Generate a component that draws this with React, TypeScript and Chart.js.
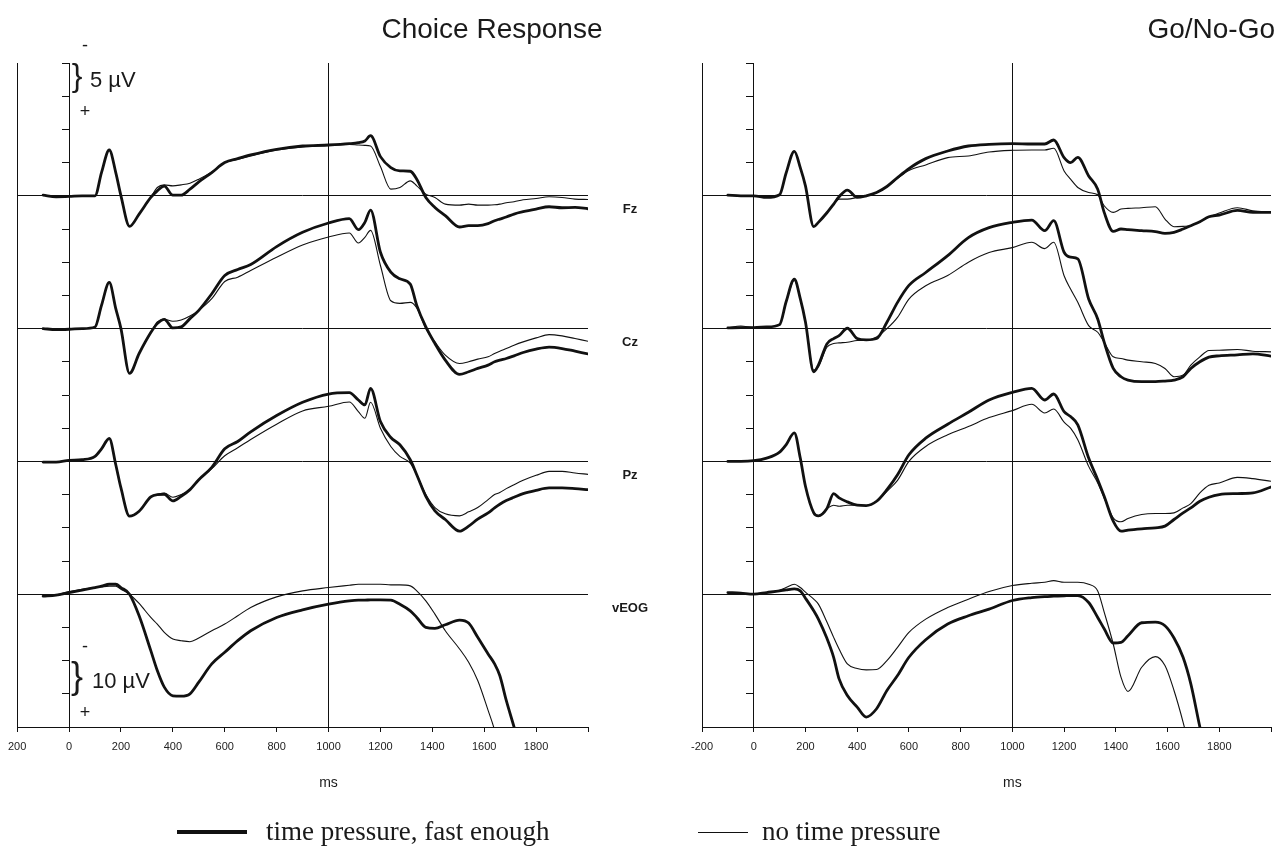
import React, { useEffect, useRef } from "react";
import { Chart, registerables } from "chart.js";

Chart.register(...registerables);

// ---------- DATA (µV, negative plotted upward) ----------
const timesChoice = [-100, -50, 0, 50, 100, 125, 155, 180, 200, 233, 270, 315, 340, 367, 400, 432, 466, 500, 550, 600, 650, 700, 800, 900, 1000, 1080, 1115, 1140, 1162, 1200, 1240, 1275, 1315, 1340, 1375, 1410, 1450, 1505, 1540, 1575, 1615, 1640, 1660, 1685, 1715, 1750, 1800, 1850, 1900, 1950, 2000];

const choiceFzFast = [-0.1, 0.15, 0.1, 0, 0, -3.5, -6.9, -3.5, 0, 4.6, 2.75, 0.25, -0.75, -1.45, -0.1, -0.1, -1.0, -2.1, -3.5, -5.0, -5.6, -6.15, -7.0, -7.5, -7.65, -7.85, -8.0, -8.25, -9.05, -5.9, -4.25, -3.75, -3.7, -2.5, 0.25, 1.75, 3.0, 4.7, 4.5, 4.5, 4.2, 3.75, 3.5, 3.2, 2.75, 2.4, 2.0, 1.65, 1.8, 1.75, 1.95];
const choiceFzNoPressure = [-0.1, 0.15, 0.1, 0, 0, -3.5, -6.9, -3.5, 0, 4.6, 2.75, 0.25, -1.25, -1.65, -1.5, -1.65, -1.9, -2.5, -3.6, -5.0, -5.5, -6.0, -6.9, -7.35, -7.6, -7.75, -7.65, -7.6, -7.5, -4.4, -1.0, -1.25, -2.25, -1.5, -0.25, 0.25, 1.25, 1.4, 1.25, 1.4, 1.4, 1.35, 1.25, 1.05, 0.9, 0.6, 0.4, 0.15, 0.25, 0.5, 0.55];

const choiceCzFast = [0, 0.15, 0.1, 0, -0.25, -3.5, -6.95, -3.0, 0, 6.75, 3.75, 0.6, -0.75, -1.4, -0.1, -0.25, -1.5, -2.75, -5.25, -8.0, -8.9, -9.65, -12.35, -14.5, -15.9, -16.55, -14.9, -16.0, -17.85, -11.5, -8.5, -7.5, -6.7, -3.5, -0.25, 2.25, 4.75, 6.9, 6.5, 6.0, 5.5, 5.0, 4.75, 4.5, 4.1, 3.6, 3.1, 2.8, 3.0, 3.4, 3.8];
const choiceCzNoPressure = [0, 0.15, 0.1, 0, -0.25, -3.5, -6.95, -3.0, 0, 6.75, 3.75, 0.6, -1.0, -1.4, -1.1, -1.3, -1.9, -2.75, -4.5, -7.1, -7.75, -8.75, -10.75, -12.6, -13.8, -14.4, -12.9, -13.75, -14.8, -9.5, -4.2, -3.8, -3.95, -3.1, 0, 2.0, 4.0, 5.25, 5.0, 4.6, 4.25, 3.75, 3.4, 3.0, 2.5, 2.0, 1.4, 0.9, 1.1, 1.5, 1.9];

const choicePzFast = [0.1, 0.1, -0.15, -0.25, -0.75, -1.9, -3.45, 0.5, 4.0, 8.25, 7.5, 5.35, 5.0, 4.95, 5.95, 5.25, 4.25, 2.75, 0.9, -1.9, -3.0, -4.45, -6.9, -8.9, -10.15, -10.35, -9.25, -8.5, -11.0, -6.0, -3.6, -2.5, -0.25, 2.0, 5.25, 7.45, 8.75, 10.5, 9.75, 8.7, 7.75, 7.0, 6.45, 5.9, 5.4, 4.85, 4.35, 4.0, 4.0, 4.1, 4.25];
const choicePzNoPressure = [0.1, 0.1, -0.15, -0.25, -0.75, -1.9, -3.45, 0.5, 4.0, 8.25, 7.5, 5.35, 5.0, 4.75, 5.4, 5.0, 4.25, 2.75, 1.1, -0.85, -2.05, -3.3, -5.6, -7.6, -8.3, -8.95, -7.5, -6.5, -8.9, -5.0, -2.25, -0.75, 0.25, 2.0, 5.0, 6.95, 7.9, 8.2, 7.6, 6.95, 5.75, 5.0, 4.7, 4.1, 3.5, 2.85, 2.1, 1.5, 1.5, 1.75, 1.95];

const choiceVeogFast = [0.6, 0.3, -0.5, -1.2, -2.0, -2.4, -3.0, -3.0, -2.0, 0, 6.5, 17, 23, 28, 30.6, 30.7, 30, 26.5, 21, 17.5, 14, 11, 7, 4.7, 3, 2, 1.8, 1.8, 1.7, 1.7, 1.8, 3, 5, 7, 10, 10.3, 9.2, 7.8, 8.7, 13, 18, 21, 24.5, 32, 40, 50, null, null, null, null, null];
const choiceVeogNoPressure = [0.6, 0.2, -0.8, -1.5, -2.0, -2.2, -2.4, -2.4, -1.5, 0, 2.8, 7, 9, 11.5, 13.5, 14, 14.3, 13.2, 11, 9, 6.5, 4, 0.8, -1, -2, -2.7, -3, -3, -3, -3, -2.8, -2.8, -2.5, -1, 2, 6, 11, 16.5, 20.5, 26, 35, 41, 48, null, null, null, null, null, null, null, null];

const timesGoNoGo = [-100, -50, 0, 50, 100, 125, 157, 180, 200, 232, 250, 283, 309, 330, 362, 400, 435, 475, 515, 556, 600, 665, 750, 830, 910, 1000, 1075, 1125, 1160, 1200, 1225, 1253, 1295, 1330, 1355, 1390, 1420, 1447, 1500, 1553, 1590, 1625, 1660, 1690, 1725, 1760, 1800, 1870, 1930, 2000];

const goFzFast = [-0.1, 0, 0, 0.25, -0.15, -3.4, -6.7, -4.25, -1.5, 4.65, 4.0, 2.55, 1.25, 0.15, -0.85, 0.25, 0, -0.5, -1.4, -2.75, -4.1, -5.6, -6.75, -7.5, -7.75, -7.85, -7.8, -7.8, -8.4, -5.75, -5.0, -5.8, -3.0, -1.0, 2.5, 5.35, 5.0, 5.1, 5.25, 5.4, 5.65, 5.5, 5.0, 4.5, 3.9, 3.15, 2.9, 2.2, 2.5, 2.5];
const goFzNoPressure = [-0.1, 0, 0, 0.25, -0.15, -3.4, -6.7, -4.25, -1.5, 4.65, 4.0, 2.55, 1.25, 0.5, 0.5, 0.25, 0, -0.5, -1.4, -2.6, -3.8, -4.65, -5.75, -6.0, -6.6, -6.85, -6.9, -6.9, -7.15, -3.75, -2.5, -1.25, -0.5, -0.15, 1.5, 2.5, 2.0, 1.9, 1.8, 1.65, 3.5, 4.65, 4.6, 4.5, 3.9, 3.15, 2.6, 1.8, 2.25, 2.5];

const goCzFast = [-0.1, -0.15, -0.15, -0.25, -0.6, -4.0, -7.45, -4.5, -1.0, 6.5, 5.5, 2.3, 1.5, 1.05, -0.05, 1.5, 1.7, 1.5, -0.95, -3.95, -6.5, -8.45, -11.0, -13.7, -15.2, -16.0, -16.35, -14.75, -16.25, -11.5, -10.75, -10.5, -4.45, -1.45, 2.05, 6.0, 7.25, 7.75, 8.0, 8.0, 7.9, 7.75, 7.25, 6.0, 5.0, 4.3, 4.1, 3.95, 3.8, 4.15];
const goCzNoPressure = [-0.1, -0.4, -0.15, -0.25, -0.6, -3.9, -7.25, -4.5, -1.0, 6.25, 5.75, 2.8, 2.25, 2.15, 2.05, 1.8, 1.75, 1.25, 0, -1.7, -4.45, -6.45, -8.0, -10.0, -11.45, -12.2, -13.0, -12.05, -13.0, -7.95, -5.95, -3.95, -0.45, 0.55, 2.05, 4.25, 4.5, 4.75, 5.0, 5.25, 6.0, 7.25, 7.0, 5.5, 4.25, 3.3, 3.25, 3.15, 3.4, 3.5];

const goPzFast = [0, 0, -0.1, -0.5, -1.4, -2.5, -4.3, -0.5, 3.75, 7.75, 8.2, 7.1, 4.85, 5.5, 6.1, 6.6, 6.65, 6.0, 4.25, 2.0, -1.0, -3.5, -5.6, -7.4, -9.25, -10.4, -11.0, -9.25, -10.15, -7.5, -6.75, -5.5, -0.5, 2.75, 5.25, 9.0, 10.5, 10.35, 10.15, 10.0, 9.75, 8.75, 7.75, 7.0, 6.0, 5.4, 5.0, 4.85, 4.75, 3.85];
const goPzNoPressure = [0, 0, -0.1, -0.5, -1.4, -2.5, -4.3, -0.5, 3.75, 7.75, 8.2, 7.1, 6.6, 6.75, 6.6, 6.6, 6.65, 6.0, 4.5, 2.85, 0, -2.25, -4.0, -5.25, -6.6, -7.65, -8.6, -7.3, -7.9, -5.9, -5.0, -3.25, 0.75, 3.25, 5.5, 8.5, 9.1, 8.6, 8.0, 7.85, 7.85, 7.75, 7.0, 6.35, 4.75, 3.6, 3.25, 2.4, 2.6, 3.0];

const goVeogFast = [-0.5, -0.3, 0, -0.5, -1.0, -1.3, -1.6, -1.0, 1.2, 5, 7.5, 13.3, 19, 25.5, 30.5, 34, 37, 34.5, 29, 24.5, 19, 13.7, 9, 6.5, 4.5, 1.9, 1, 0.7, 0.6, 0.5, 0.4, 0.4, 2.5, 7, 10.4, 14.7, 14.5, 12.5, 8.6, 8.4, 9.5, 13.2, 19, 27, 40, 52, null, null, null, null];
const goVeogNoPressure = [-0.5, -0.3, 0, -0.5, -1.2, -2.0, -3.0, -2.0, -0.6, 1.5, 3, 8.4, 13, 16.5, 21, 22.4, 22.8, 22.7, 20, 16, 11.5, 7.5, 4, 1.5, -0.8, -2.6, -3.3, -3.6, -4.1, -3.6, -3.6, -3.6, -3.0, -1.0, 5.4, 15, 25, 29.3, 22, 18.8, 21.5, 29, 38.5, 48, null, null, null, null, null, null];

const channelNames = ["Fz", "Cz", "Pz", "vEOG"];
const microVoltsPerDivision = [5, 5, 5, 10];
const xTickValues = [-200, 0, 200, 400, 600, 800, 1000, 1200, 1400, 1600, 1800, 2000];
const choiceTickLabels = ["200", "0", "200", "400", "600", "800", "1000", "1200", "1400", "1600", "1800", ""];
const goTickLabels = ["-200", "0", "200", "400", "600", "800", "1000", "1200", "1400", "1600", "1800", ""];
const legendLabels = ["time pressure, fast enough", "no time pressure"];

// ---------- LAYOUT ----------
const SANS = '"Liberation Sans", Arial, Helvetica, sans-serif';
const SERIF = '"Liberation Serif", "Times New Roman", serif';
const CHANNEL_OFFSET = [0, 4, 8, 12]; // divisions from top baseline
const INK = "#111";

type Panel = {
  title: string;
  times: number[];
  fast: number[][];
  slow: number[][];
  tickLabels: string[];
  canvasLeft: number;
  canvasWidth: number;
  padLeft: number;
  padRight: number;
  titleX: number;
  titleAlign: "center" | "right";
  showChannelLabels: boolean;
  showScaleBars: boolean;
};

const panels: Panel[] = [
  {
    title: "Choice Response",
    times: timesChoice,
    fast: [choiceFzFast, choiceCzFast, choicePzFast, choiceVeogFast],
    slow: [choiceFzNoPressure, choiceCzNoPressure, choicePzNoPressure, choiceVeogNoPressure],
    tickLabels: choiceTickLabels,
    canvasLeft: 0,
    canvasWidth: 660,
    padLeft: 12,
    padRight: 72,
    titleX: 492,
    titleAlign: "center",
    showChannelLabels: true,
    showScaleBars: true,
  },
  {
    title: "Go/No-Go",
    times: timesGoNoGo,
    fast: [goFzFast, goCzFast, goPzFast, goVeogFast],
    slow: [goFzNoPressure, goCzNoPressure, goPzNoPressure, goVeogNoPressure],
    tickLabels: goTickLabels,
    canvasLeft: 660,
    canvasWidth: 619,
    padLeft: 42,
    padRight: 7,
    titleX: 615,
    titleAlign: "right",
    showChannelLabels: false,
    showScaleBars: false,
  },
];

function buildSeries(times: number[], values: number[], ch: number) {
  return times.map((t, k) =>
    values[k] === null || values[k] === undefined
      ? { x: t, y: null }
      : { x: t, y: CHANNEL_OFFSET[ch] + values[k] / microVoltsPerDivision[ch] }
  );
}

function ErpPanel({ panel }: { panel: Panel }) {
  const ref = useRef<HTMLCanvasElement | null>(null);

  useEffect(() => {
    const canvas = ref.current;
    if (!canvas) return;

    const datasets: any[] = [];
    for (let ch = 0; ch < 4; ch++) {
      datasets.push({
        label: `${channelNames[ch]} ${legendLabels[0]}`,
        data: buildSeries(panel.times, panel.fast[ch], ch),
        borderColor: INK,
        borderWidth: 2.8,
        pointRadius: 0,
        cubicInterpolationMode: "monotone",
        spanGaps: false,
        borderJoinStyle: "round",
        borderCapStyle: "round",
      });
      datasets.push({
        label: `${channelNames[ch]} ${legendLabels[1]}`,
        data: buildSeries(panel.times, panel.slow[ch], ch),
        borderColor: INK,
        borderWidth: 1.1,
        pointRadius: 0,
        cubicInterpolationMode: "monotone",
        spanGaps: false,
        borderJoinStyle: "round",
      });
    }

    const textPlugin = {
      id: "erpText",
      afterDraw(chart: any) {
        const ctx = chart.ctx;
        const xs = chart.scales.x;
        const ys = chart.scales.y;
        ctx.save();
        ctx.fillStyle = "#1a1a1a";
        ctx.textAlign = panel.titleAlign;
        ctx.textBaseline = "middle";
        ctx.font = `28px ${SANS}`;
        ctx.fillText(panel.title, panel.titleX, 30);
        ctx.textAlign = "center";
        ctx.font = `14px ${SANS}`;
        ctx.fillText("ms", xs.getPixelForValue(1000), 783);
        if (panel.showChannelLabels) {
          ctx.font = `bold 13px ${SANS}`;
          for (let ch = 0; ch < 4; ch++) {
            ctx.fillText(channelNames[ch], 630, ys.getPixelForValue(CHANNEL_OFFSET[ch]) + 14);
          }
        }
        if (panel.showScaleBars) {
          ctx.font = `18px ${SANS}`;
          ctx.fillText("-", 85, 46);
          ctx.fillText("+", 85, 112);
          ctx.fillText("-", 85, 647);
          ctx.fillText("+", 85, 713);
          ctx.font = `32px ${SANS}`;
          ctx.fillText("}", 77, 77);
          ctx.font = `36px ${SANS}`;
          ctx.fillText("}", 77, 678);
          ctx.textAlign = "left";
          ctx.font = `22px ${SANS}`;
          ctx.fillText(`${microVoltsPerDivision[0]} µV`, 90, 81);
          ctx.fillText(`${microVoltsPerDivision[3]} µV`, 92, 682);
        }
        ctx.restore();
      },
    };

    const chart = new Chart(canvas, {
      type: "line",
      data: { datasets },
      plugins: [textPlugin],
      options: {
        responsive: false,
        maintainAspectRatio: false,
        animation: false,
        layout: { padding: { left: panel.padLeft, right: panel.padRight, top: 63, bottom: 49 } },
        plugins: {
          legend: { display: false },
          tooltip: { enabled: false },
          title: { display: false },
        },
        scales: {
          x: {
            type: "linear",
            min: -200,
            max: 2000,
            afterFit: (s: any) => {
              s.height = 70;
            },
            afterBuildTicks: (s: any) => {
              s.ticks = xTickValues.map((v) => ({ value: v }));
            },
            ticks: {
              autoSkip: false,
              maxRotation: 0,
              padding: 8,
              color: "#222",
              font: { family: SANS, size: 11 },
              callback: (value: any) => {
                const i = xTickValues.indexOf(Number(value));
                return i >= 0 ? panel.tickLabels[i] : "";
              },
            },
            grid: {
              drawOnChartArea: true,
              color: (ctx: any) =>
                ctx.tick && (ctx.tick.value === 1000 || ctx.tick.value === -200) ? INK : "rgba(0,0,0,0)",
              tickColor: INK,
              tickLength: 5,
              lineWidth: 1,
            },
            border: { display: true, color: INK, width: 1 },
          },
          y: {
            type: "linear",
            min: -4,
            max: 16,
            reverse: true,
            position: { x: 0 } as any,
            ticks: { display: false, stepSize: 1 },
            grid: {
              drawOnChartArea: true,
              color: (ctx: any) =>
                ctx.tick && CHANNEL_OFFSET.includes(ctx.tick.value) ? INK : "rgba(0,0,0,0)",
              tickColor: INK,
              tickLength: 7,
              lineWidth: 1,
            },
            border: { display: true, color: INK, width: 1 },
          },
        },
      } as any,
    });
    return () => chart.destroy();
  }, [panel]);

  return (
    <canvas
      ref={ref}
      width={panel.canvasWidth}
      height={846}
      style={{ position: "absolute", left: panel.canvasLeft, top: 0, width: panel.canvasWidth, height: 846 }}
    />
  );
}

export default function App() {
  return (
    <div style={{ position: "absolute", left: 0, top: 0, width: 1279, height: 846, background: "#fff", overflow: "hidden" }}>
      {panels.map((p) => (
        <ErpPanel key={p.title} panel={p} />
      ))}
      <div style={{ position: "absolute", left: 177, top: 830, width: 70, height: 4, background: INK }} />
      <div style={{ position: "absolute", left: 266, top: 815, font: `27px ${SERIF}`, lineHeight: "32px", color: "#1a1a1a", whiteSpace: "nowrap" }}>
        {legendLabels[0]}
      </div>
      <div style={{ position: "absolute", left: 698, top: 832, width: 50, height: 1, background: INK }} />
      <div style={{ position: "absolute", left: 762, top: 815, font: `27px ${SERIF}`, lineHeight: "32px", color: "#1a1a1a", whiteSpace: "nowrap" }}>
        {legendLabels[1]}
      </div>
    </div>
  );
}
